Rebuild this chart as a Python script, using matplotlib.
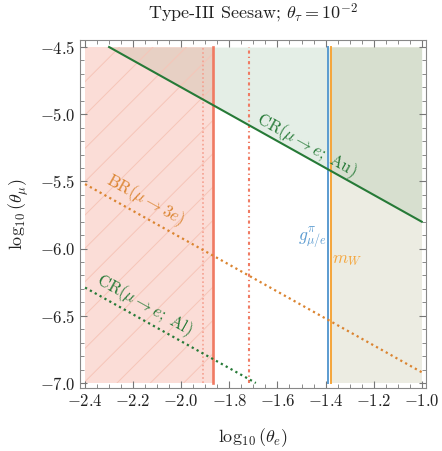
import numpy as np
import matplotlib
matplotlib.use("Agg")
from matplotlib import pyplot as plt
from matplotlib.ticker import MultipleLocator, FuncFormatter

plt.rcParams['font.family'] = 'serif'
plt.rcParams['font.serif'] = ['cmr10']
plt.rcParams['mathtext.fontset'] = 'cm'
plt.rcParams['axes.formatter.use_mathtext'] = True
plt.rcParams['hatch.linewidth'] = 0.7

# plot region (data box)
theta_e_range = [-2.4, -1.0]
theta_mu_range = [-7.0, -4.5]

# diagonal bounds: log10(theta_e) + log10(theta_mu) = const
cr_au_sum = -6.80
br_3e_sum = -7.92
cr_al_sum = -8.69

# vertical bounds on log10(theta_e)
red_solid = -1.87
red_dotted = -1.91
red_dashdot = -1.72
g_pi_bound = -1.389
m_w_bound = -1.377

GREEN = '#267a37'
RED = '#f07a62'
ORANGE_D = '#db8430'
BLUE = '#5b9bd0'
ORANGE = '#f5a53a'

fig = plt.figure(figsize=(4.42, 4.51), dpi=100)
ax = fig.add_axes([0.181, 0.1386, 0.783, 0.7738])
ax.set_xlim(-2.421, -0.982)
ax.set_ylim(-7.041, -4.444)

xs = np.linspace(theta_e_range[0], theta_e_range[1], 400)
lo, hi = theta_mu_range

# green region above CR(Au)
y_au = np.clip(cr_au_sum - xs, lo, hi)
ax.fill_between(xs, y_au, hi, color=GREEN, alpha=0.12, lw=0, zorder=1)
# red hatched region
ax.fill_betweenx(theta_mu_range, theta_e_range[0], red_solid, color=RED, alpha=0.25, lw=0, zorder=1)
ax.fill_betweenx(theta_mu_range, theta_e_range[0], red_solid, facecolor='none',
                 edgecolor='#f6c5b8', hatch='/', lw=0, zorder=1.5)
# beige region right of m_W
ax.fill_betweenx(theta_mu_range, m_w_bound, theta_e_range[1], color='#b4b48c', alpha=0.25, lw=0, zorder=1)


def diag(s):
    x0 = max(theta_e_range[0], s - hi)
    x1 = min(theta_e_range[1], s - lo)
    return [x0, x1], [s - x0, s - x1]


x, y = diag(cr_au_sum)
ax.plot(x, y, color=GREEN, lw=1.5, zorder=4)
x, y = diag(br_3e_sum)
ax.plot(x, y, color=ORANGE_D, lw=1.6, ls=(0, (1, 1.5)), zorder=4)
x, y = diag(cr_al_sum)
ax.plot(x, y, color=GREEN, lw=1.6, ls=(0, (1, 1.5)), zorder=4)

ax.plot([red_solid] * 2, theta_mu_range, color=RED, lw=1.9, zorder=3)
ax.plot([red_dotted] * 2, theta_mu_range, color='#f5a090', lw=1.2, ls=(0, (1, 1.5)), zorder=3)
ax.plot([red_dashdot] * 2, theta_mu_range, color=RED, lw=1.5, ls=(0, (1.5, 1.5, 0.6, 1.5)), zorder=3)
ax.plot([g_pi_bound] * 2, theta_mu_range, color=BLUE, lw=1.4, zorder=3)
ax.plot([m_w_bound] * 2, theta_mu_range, color=ORANGE, lw=1.4, zorder=3)

# text rotation along slope -1 diagonals
p = ax.transData.transform([[-2.0, -5.0], [-1.0, -6.0]])
ang = np.degrees(np.arctan2(p[1, 1] - p[0, 1], p[1, 0] - p[0, 0]))

ax.text(-1.481, -5.229, r'CR$(\mu\rightarrow e;\ $Au$)$', color=GREEN, fontsize=12,
        rotation=ang, ha='center', va='center', rotation_mode='anchor', zorder=5)
ax.text(-2.150, -5.638, r'BR$(\mu\rightarrow 3e)$', color=ORANGE_D, fontsize=12,
        rotation=ang, ha='center', va='center', rotation_mode='anchor', zorder=5)
ax.text(-2.155, -6.42, r'CR$(\mu\rightarrow e;\ $Al$)$', color=GREEN, fontsize=12,
        rotation=ang, ha='center', va='center', rotation_mode='anchor', zorder=5)
ax.text(-1.456, -5.921, r'$g^{\pi}_{\mu/e}$', color=BLUE, fontsize=12.5,
        ha='center', va='center', zorder=5)
ax.text(-1.311, -6.085, r'$m_W$', color=ORANGE, fontsize=12.5,
        ha='center', va='center', zorder=5)

ax.xaxis.set_major_locator(MultipleLocator(0.2))
ax.xaxis.set_minor_locator(MultipleLocator(0.05))
ax.yaxis.set_major_locator(MultipleLocator(0.5))
ax.yaxis.set_minor_locator(MultipleLocator(0.1))
fmt = FuncFormatter(lambda v, pos: r'$%.1f$' % v)
ax.xaxis.set_major_formatter(fmt)
ax.yaxis.set_major_formatter(fmt)
ax.tick_params(which='both', direction='in', top=True, right=True, color='#777777',
               labelcolor='#222222', labelsize=12)
ax.tick_params(which='major', length=5, width=0.8)
ax.tick_params(which='minor', length=3, width=0.6)
for sp in ax.spines.values():
    sp.set_color('#888888')
    sp.set_linewidth(0.8)

ax.set_xlabel(r'$\log_{10}(\theta_e)$', fontsize=13, color='#222222', labelpad=12)
ax.set_ylabel(r'$\log_{10}(\theta_\mu)$', fontsize=13, color='#222222', labelpad=6)
ax.set_title(r'Type-III Seesaw; $\theta_\tau = 10^{-2}$', fontsize=13, color='#222222', pad=15)

fig.savefig('out.png', dpi=100)
